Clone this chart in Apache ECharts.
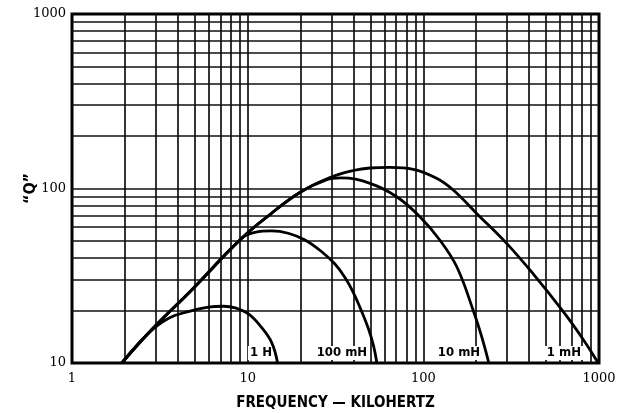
<!DOCTYPE html>
<html>
<head>
<meta charset="utf-8">
<script src="https://cdn.jsdelivr.net/npm/echarts@6/dist/echarts.min.js"></script>
<style>
  html, body { margin: 0; padding: 0; background: #fff; }
  #chart { width: 622px; height: 413px; }
</style>
</head>
<body>
<div id="chart"></div>
<script>
// Inductor Q versus frequency, log-log, one curve per inductance.

// Axis extents and labelled decades
const xMin = 1, xMax = 1000;
const yMin = 10, yMax = 1000;
const xTickLabels = [1, 10, 100, 1000];
const yTickLabels = [10, 100, 1000];

// Log-paper grid rules (1-9 within each decade)
const xGridValues = [2, 3, 4, 5, 6, 7, 8, 9, 10, 20, 30, 40, 50, 60, 70, 80, 90, 100,
                     200, 300, 400, 500, 600, 700, 800, 900];
const yGridValues = [20, 30, 40, 50, 60, 70, 80, 90, 100, 200, 300, 400, 500, 600, 700, 800, 900];

// Common rising envelope, [kHz, Q]
const envelope = [[1.92, 10], [2.84, 15.5], [4.8, 26.2], [9.24, 51.8]];
const envelopeUpper = [[13.5, 71.4], [19.8, 94.9]];

// Individual curves beyond the shared envelope, [kHz, Q]
const q1H = [[1.92, 10], [2.72, 14.8], [3.53, 18], [4.59, 19.7], [5.97, 20.9],
             [7.3, 21.15], [8.5, 20.7], [10.1, 19.1], [11.8, 16.3], [13.7, 13.1], [14.8, 10]];
const q100mH = [[11, 56.1], [13.7, 57.1], [17, 55.4], [21.2, 50.7], [26.4, 43.4], [31.4, 36.9],
                [35.8, 30.9], [39.9, 25.4], [44.6, 19.7], [48.6, 15.8], [51.9, 12.7], [54.4, 10]];
const q10mH = [[28, 112], [34, 115], [49.7, 107], [70.5, 89.7], [95.6, 68.9], [124, 50.7],
               [155, 35.6], [192, 20.1], [215, 14.1], [236, 10]];
const q1mH = [[29.4, 115.6], [39.9, 126.8], [49.7, 131.1], [64.5, 132], [87.6, 128.8], [119, 114.4],
              [148, 98], [201, 72], [298, 48.5], [422, 32.4], [626, 19.7], [813, 13.65], [990, 10]];

// Curve names and where their captions sit, [kHz, Q]
const curveNames = ['1 H', '100 mH', '10 mH', '1 mH'];
const captionAt = [[11.9, 11.4], [34.4, 11.4], [159.6, 11.4], [631, 11.4]];

const INK = '#000';
const serifFont = "'DejaVu Serif', 'Liberation Serif', serif";
const boldNarrow = "'DejaVu Sans Condensed', 'Liberation Sans Narrow', 'DejaVu Sans', sans-serif";

const chart = echarts.init(document.getElementById('chart'), null, { renderer: 'canvas' });

function curveSeries(name, pts, caption) {
  return {
    name: name,
    type: 'line',
    data: pts,
    smooth: 0.4,
    showSymbol: false,
    silent: true,
    z: 5,
    lineStyle: { color: INK, width: 2.8 },
    markPoint: {
      silent: true,
      symbol: 'circle',
      symbolSize: 1,
      itemStyle: { color: 'rgba(0,0,0,0)' },
      label: {
        show: true,
        position: 'inside',
        formatter: name,
        color: INK,
        fontFamily: boldNarrow,
        fontWeight: 'bold',
        fontSize: 13,
        backgroundColor: '#fff',
        padding: [1, 2, 0, 2]
      },
      data: [{ coord: caption }]
    }
  };
}

const gridRules = {
  name: 'rules',
  type: 'line',
  data: [],
  silent: true,
  z: 2,
  markLine: {
    silent: true,
    symbol: 'none',
    animation: false,
    label: { show: false },
    lineStyle: { color: '#111', width: 1.7, type: 'solid' },
    data: xGridValues.map(v => ({ xAxis: v })).concat(yGridValues.map(v => ({ yAxis: v })))
  }
};

const fmt = v => String(Math.round(v));

chart.setOption({
  animation: false,
  backgroundColor: '#fff',
  grid: {
    left: 72, right: 23, top: 14, bottom: 50,
    outerBoundsMode: 'none',
    containLabel: false,
    show: true, borderColor: INK, borderWidth: 3, backgroundColor: 'transparent'
  },
  xAxis: {
    type: 'log', logBase: 10, min: xMin, max: xMax,
    name: 'FREQUENCY \u2014 KILOHERTZ',
    nameLocation: 'middle', nameGap: 33, nameMoveOverlap: false,
    nameTextStyle: { fontFamily: boldNarrow, fontWeight: 'bold', fontSize: 15, color: INK },
    axisLine: { show: false },
    axisTick: { show: false },
    splitLine: { show: false },
    minorTick: { show: false },
    axisLabel: {
      color: INK, fontFamily: serifFont, fontSize: 13, margin: 9,
      formatter: v => xTickLabels.includes(Math.round(v)) ? fmt(v) : ''
    }
  },
  yAxis: {
    type: 'log', logBase: 10, min: yMin, max: yMax,
    name: '\u201CQ\u201D',
    nameLocation: 'middle', nameGap: 33, nameRotate: 90, nameMoveOverlap: false,
    nameTextStyle: { fontFamily: boldNarrow, fontWeight: 'bold', fontSize: 16, color: INK },
    axisLine: { show: false },
    axisTick: { show: false },
    splitLine: { show: false },
    axisLabel: {
      color: INK, fontFamily: serifFont, fontSize: 13, margin: 6,
      formatter: v => yTickLabels.includes(Math.round(v)) ? fmt(v) : ''
    }
  },
  series: [
    gridRules,
    curveSeries(curveNames[0], q1H, captionAt[0]),
    curveSeries(curveNames[1], envelope.concat(q100mH), captionAt[1]),
    curveSeries(curveNames[2], envelope.concat(envelopeUpper, q10mH), captionAt[2]),
    curveSeries(curveNames[3], envelope.concat(envelopeUpper, q1mH), captionAt[3])
  ]
});
</script>
</body>
</html>
